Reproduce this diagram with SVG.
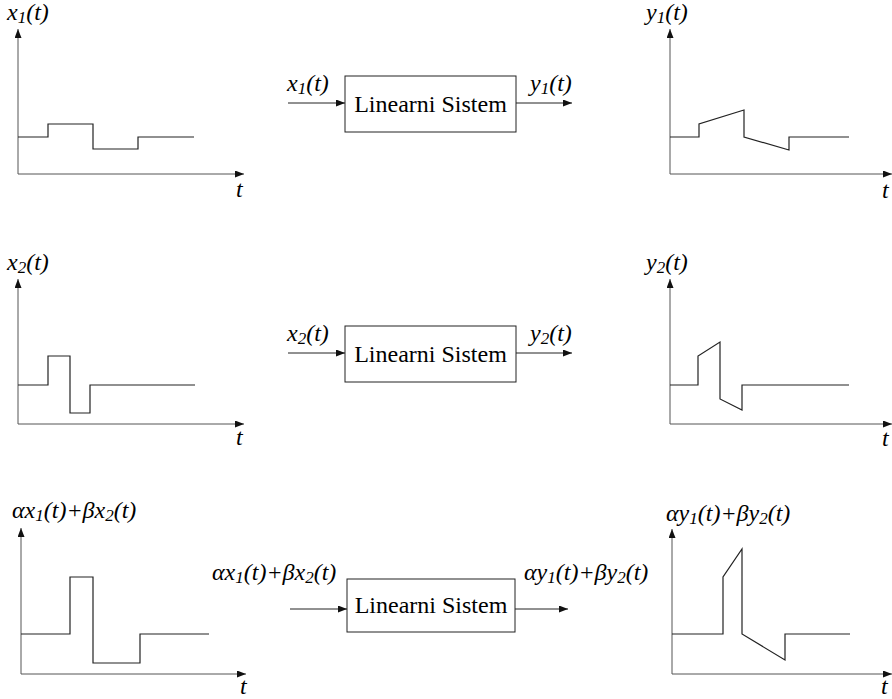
<svg xmlns="http://www.w3.org/2000/svg" width="892" height="699" viewBox="0 0 892 699">
<defs>
<marker id="ah" markerUnits="userSpaceOnUse" markerWidth="9" markerHeight="7" refX="9" refY="3.5" orient="auto">
<path d="M0,0 L9,3.5 L0,7 z" fill="#111"/>
</marker>
<style>
text{font-family:'Liberation Serif','Times New Roman','DejaVu Serif',serif}
.lbl{font-style:italic;font-size:24px;fill:#000}
.sub{font-size:17px}
.box{fill:#fff;stroke:#222;stroke-width:1}
.btxt{font-size:24px;fill:#000;text-anchor:middle}
.axis{fill:none;stroke:#555;stroke-width:1;marker-end:url(#ah)}
.sig{fill:none;stroke:#222;stroke-width:1.2}
.conn{fill:none;stroke:#222;stroke-width:1;marker-end:url(#ah)}
</style>
</defs>
<rect width="892" height="699" fill="#fff"/>

<!-- Row 1 -->
<g id="plot-x1">
<line class="axis" x1="18" y1="174" x2="18" y2="29"/>
<line class="axis" x1="18" y1="174" x2="244" y2="174"/>
<polyline class="sig" points="18,137 48,137 48,124 93,124 93,149 138,149 138,137 194,137"/>
<text class="lbl" x="7" y="20" font-family="'Liberation Serif', serif">x<tspan class="sub" dy="3">1</tspan><tspan dy="-3">(t)</tspan></text>
<text class="lbl" x="236" y="197" font-family="'Liberation Serif', serif">t</text>
</g>
<g id="sys1">
<rect class="box" x="345" y="76" width="171" height="56"/>
<text class="btxt" x="430.5" y="112" font-family="'Liberation Serif', serif">Linearni Sistem</text>
</g>
<g id="plot-y1">
<line class="axis" x1="670" y1="174" x2="670" y2="29"/>
<line class="axis" x1="670" y1="174" x2="892" y2="174"/>
<polyline class="sig" points="670,137 699,137 699,124 744,110 744,137 789,150 789,137 849,137"/>
<text class="lbl" x="646" y="20" font-family="'Liberation Serif', serif">y<tspan class="sub" dy="3">1</tspan><tspan dy="-3">(t)</tspan></text>
<text class="lbl" x="882" y="198" font-family="'Liberation Serif', serif">t</text>
</g>

<!-- Row 2 -->
<g id="plot-x2">
<line class="axis" x1="18" y1="424" x2="18" y2="279"/>
<line class="axis" x1="18" y1="424" x2="244" y2="424"/>
<polyline class="sig" points="18,385 48,385 48,356 70,356 70,413 90,413 90,385 195,385"/>
<text class="lbl" x="7" y="270" font-family="'Liberation Serif', serif">x<tspan class="sub" dy="3">2</tspan><tspan dy="-3">(t)</tspan></text>
<text class="lbl" x="236" y="445" font-family="'Liberation Serif', serif">t</text>
</g>
<g id="sys2">
<rect class="box" x="345" y="326" width="171" height="56"/>
<text class="btxt" x="430.5" y="362" font-family="'Liberation Serif', serif">Linearni Sistem</text>
</g>
<g id="plot-y2">
<line class="axis" x1="670" y1="424" x2="670" y2="279"/>
<line class="axis" x1="670" y1="424" x2="892" y2="424"/>
<polyline class="sig" points="670,385 698,385 698,356 720,342 720,399 742,410 742,385 849,385"/>
<text class="lbl" x="646" y="270" font-family="'Liberation Serif', serif">y<tspan class="sub" dy="3">2</tspan><tspan dy="-3">(t)</tspan></text>
<text class="lbl" x="882" y="446" font-family="'Liberation Serif', serif">t</text>
</g>

<!-- Row 3 -->
<g id="plot-sumx">
<line class="axis" x1="21" y1="674" x2="21" y2="528"/>
<line class="axis" x1="21" y1="674" x2="246" y2="674"/>
<polyline class="sig" points="21,634 70,634 70,577 93,577 93,663 140,663 140,634 209,634"/>
<text class="lbl" x="12" y="518" font-family="'Liberation Serif', serif">αx<tspan class="sub" dy="3">1</tspan><tspan dy="-3">(t)+βx</tspan><tspan class="sub" dy="3">2</tspan><tspan dy="-3">(t)</tspan></text>
<text class="lbl" x="240" y="694" font-family="'Liberation Serif', serif">t</text>
</g>
<g id="sys3">
<rect class="box" x="347" y="579" width="168" height="53"/>
<text class="btxt" x="431" y="613" font-family="'Liberation Serif', serif">Linearni Sistem</text>
</g>
<g id="plot-sumy">
<line class="axis" x1="672" y1="674" x2="672" y2="529"/>
<line class="axis" x1="672" y1="674" x2="892" y2="674"/>
<polyline class="sig" points="672,634 723,634 723,577 742,549 742,634 785,660 785,634 850,634"/>
<text class="lbl" x="666" y="521" font-family="'Liberation Serif', serif">αy<tspan class="sub" dy="3">1</tspan><tspan dy="-3">(t)+βy</tspan><tspan class="sub" dy="3">2</tspan><tspan dy="-3">(t)</tspan></text>
<text class="lbl" x="881" y="694" font-family="'Liberation Serif', serif">t</text>
</g>

<!-- Connectors -->
<g id="connectors">
<line class="conn" x1="288" y1="103" x2="345" y2="103"/>
<line class="conn" x1="516" y1="103" x2="572" y2="103"/>
<line class="conn" x1="288" y1="353" x2="345" y2="353"/>
<line class="conn" x1="516" y1="353" x2="572" y2="353"/>
<line class="conn" x1="290" y1="609" x2="347" y2="609"/>
<line class="conn" x1="515" y1="609" x2="568" y2="609"/>
<text class="lbl" x="287" y="91" font-family="'Liberation Serif', serif">x<tspan class="sub" dy="3">1</tspan><tspan dy="-3">(t)</tspan></text>
<text class="lbl" x="530" y="91" font-family="'Liberation Serif', serif">y<tspan class="sub" dy="3">1</tspan><tspan dy="-3">(t)</tspan></text>
<text class="lbl" x="287" y="341" font-family="'Liberation Serif', serif">x<tspan class="sub" dy="3">2</tspan><tspan dy="-3">(t)</tspan></text>
<text class="lbl" x="530" y="341" font-family="'Liberation Serif', serif">y<tspan class="sub" dy="3">2</tspan><tspan dy="-3">(t)</tspan></text>
<text class="lbl" x="212" y="580" font-family="'Liberation Serif', serif">αx<tspan class="sub" dy="3">1</tspan><tspan dy="-3">(t)+βx</tspan><tspan class="sub" dy="3">2</tspan><tspan dy="-3">(t)</tspan></text>
<text class="lbl" x="524" y="580" font-family="'Liberation Serif', serif">αy<tspan class="sub" dy="3">1</tspan><tspan dy="-3">(t)+βy</tspan><tspan class="sub" dy="3">2</tspan><tspan dy="-3">(t)</tspan></text>
</g>
</svg>
